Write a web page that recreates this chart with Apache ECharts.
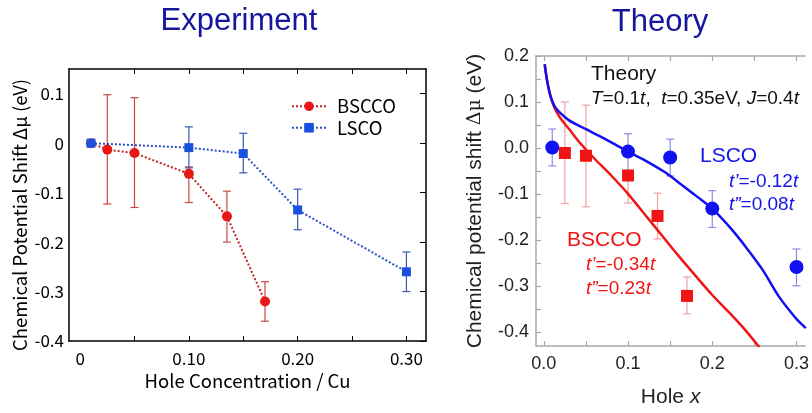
<!DOCTYPE html>
<html>
<head>
<meta charset="utf-8">
<script src="https://cdn.jsdelivr.net/npm/echarts@6/dist/echarts.min.js"></script>
<style>
html,body{margin:0;padding:0;background:#fff;}
#chart{width:812px;height:413px;}
</style>
</head>
<body>
<div id="chart"></div>
<script>
// ---------- Experiment (left panel) ----------
const expBsccoX = [0.01, 0.025, 0.05, 0.10, 0.135, 0.17];
const expBsccoY = [0, -0.013, -0.02, -0.062, -0.148, -0.32];
const expLscoX = [0.01, 0.10, 0.15, 0.20, 0.30];
const expLscoY = [0, -0.009, -0.021, -0.135, -0.26];
const expBsccoErrX = [0.025, 0.05, 0.10, 0.135, 0.17];
const expBsccoErrLow = [-0.123, -0.13, -0.12, -0.2, -0.36];
const expBsccoErrHigh = [0.098, 0.092, -0.048, -0.097, -0.28];
const expLscoErrX = [0.10, 0.15, 0.20, 0.30];
const expLscoErrLow = [-0.05, -0.06, -0.175, -0.30];
const expLscoErrHigh = [0.033, 0.02, -0.093, -0.22];
const expXLabels = [0, 0.1, 0.2, 0.3];
const expXTicks = [0.05, 0.1, 0.15, 0.2, 0.25, 0.3];
const expYLabels = [-0.4, -0.3, -0.2, -0.1, 0, 0.1];

// ---------- Theory (right panel) ----------
const thBsccoX = [0.025, 0.05, 0.10, 0.135, 0.17];
const thBsccoY = [-0.011, -0.017, -0.06, -0.148, -0.322];
const thLscoX = [0.01, 0.10, 0.15, 0.20, 0.30];
const thLscoY = [0.001, -0.008, -0.021, -0.132, -0.259];
const thBsccoErrLow = [-0.121, -0.128, -0.12, -0.198, -0.361];
const thBsccoErrHigh = [0.1, 0.093, -0.05, -0.0985, -0.281];
const thLscoErrLow = [-0.039, -0.049, -0.061, -0.173, -0.30];
const thLscoErrHigh = [0.041, 0.031, 0.019, -0.093, -0.22];
const curveBsccoX = [0.001, 0.004, 0.008, 0.012, 0.018, 0.024, 0.03, 0.042, 0.06, 0.08, 0.1, 0.12, 0.14, 0.16, 0.18, 0.2, 0.22, 0.24, 0.256];
const curveBsccoY = [0.182, 0.145, 0.112, 0.09, 0.069, 0.054, 0.041, 0.013, -0.023, -0.06, -0.1, -0.145, -0.19, -0.235, -0.278, -0.32, -0.358, -0.398, -0.434];
const curveLscoX = [0.001, 0.004, 0.008, 0.013, 0.02, 0.03, 0.042, 0.05, 0.0615, 0.073, 0.085, 0.1, 0.12, 0.143, 0.16, 0.182, 0.2, 0.221, 0.24, 0.26, 0.279, 0.299, 0.311];
const curveLscoY = [0.182, 0.145, 0.112, 0.09, 0.075, 0.06, 0.048, 0.041, 0.03, 0.019, 0.007, -0.008, -0.027, -0.052, -0.075, -0.106, -0.132, -0.173, -0.216, -0.266, -0.323, -0.37, -0.392];
const thXLabels = [0, 0.1, 0.2, 0.3];
const thXTicks = [0, 0.05, 0.1, 0.15, 0.2, 0.25, 0.3];
const thYLabels = [-0.4, -0.3, -0.2, -0.1, 0, 0.1, 0.2];
const thYTicks = [-0.4, -0.35, -0.3, -0.25, -0.2, -0.15, -0.1, -0.05, 0, 0.05, 0.1, 0.15, 0.2];

const JP = '"Noto Sans CJK JP", "DejaVu Sans", sans-serif';
const AR = '"Liberation Sans", Arial, sans-serif';

const zip = (xs, ys) => xs.map((x, i) => [x, ys[i]]);
const zip3 = (xs, a, b) => xs.map((x, i) => [x, a[i], b[i]]);

function errBar(color, cap, width) {
  return function (params, api) {
    const x = api.value(0), lo = api.value(1), hi = api.value(2);
    const p1 = api.coord([x, hi]), p2 = api.coord([x, lo]);
    const st = { stroke: color, lineWidth: width };
    return {
      type: 'group',
      children: [
        { type: 'line', shape: { x1: p1[0], y1: p1[1], x2: p2[0], y2: p2[1] }, style: st },
        { type: 'line', shape: { x1: p1[0] - cap, y1: p1[1], x2: p1[0] + cap, y2: p1[1] }, style: st },
        { type: 'line', shape: { x1: p2[0] - cap, y1: p2[1], x2: p2[0] + cap, y2: p2[1] }, style: st }
      ]
    };
  };
}

const chart = echarts.init(document.getElementById('chart'));
const blackLine = { onZero: false, lineStyle: { color: '#000', width: 1.5 } };
const grayLine = { onZero: false, lineStyle: { color: '#a8a8a8', width: 1.5 } };
const fmt1 = v => (Math.round(v * 10) / 10).toFixed(1);

const option = {
  animation: false,
  backgroundColor: '#fff',
  grid: [
    { left: 69, top: 69, width: 357, height: 272 },
    { left: 536, top: 56, width: 274, height: 295 }
  ],
  legend: {
    data: ['BSCCO', 'LSCO'],
    orient: 'vertical',
    left: 286, top: 92,
    itemWidth: 34, itemHeight: 12, itemGap: 3,
    textStyle: { fontFamily: JP, fontSize: 18.5, color: '#000', padding: [0, 0, 0, 6] }
  },
  xAxis: [
    { gridIndex: 0, type: 'value', min: -0.0102, max: 0.318, position: 'bottom',
      axisLine: blackLine, splitLine: { show: false },
      axisTick: { inside: true, length: 5, customValues: expXTicks, lineStyle: { color: '#000' } },
      axisLabel: { customValues: expXLabels, margin: 9, fontFamily: JP, fontSize: 17, color: '#000',
        formatter: v => v === 0 ? '0' : v.toFixed(2) },
      name: 'Hole Concentration / Cu', nameLocation: 'middle', nameGap: 28,
      nameTextStyle: { fontFamily: JP, fontSize: 18.5, color: '#000' } },
    { gridIndex: 0, type: 'value', min: -0.0102, max: 0.318, position: 'top',
      axisLine: blackLine, splitLine: { show: false },
      axisTick: { inside: true, length: 5, customValues: expXTicks, lineStyle: { color: '#000' } },
      axisLabel: { show: false } },
    { gridIndex: 1, type: 'value', min: -0.0093, max: 0.3104, position: 'bottom',
      axisLine: grayLine, splitLine: { show: false },
      axisTick: { inside: true, length: 5, customValues: thXTicks, lineStyle: { color: '#a8a8a8', width: 1.2 } },
      axisLabel: { customValues: thXLabels, margin: 9, fontFamily: AR, fontSize: 18, color: '#222',
        formatter: fmt1 },
      name: 'Hole {i|x}', nameLocation: 'middle', nameGap: 41,
      nameTextStyle: { fontFamily: AR, fontSize: 21, color: '#222',
        rich: { i: { fontFamily: AR, fontSize: 21, fontStyle: 'italic', color: '#222' } } } },
    { gridIndex: 1, type: 'value', min: -0.0093, max: 0.3104, position: 'top',
      axisLine: grayLine, splitLine: { show: false },
      axisTick: { inside: true, length: 5, customValues: thXTicks, lineStyle: { color: '#a8a8a8', width: 1.2 } },
      axisLabel: { show: false } }
  ],
  yAxis: [
    { gridIndex: 0, type: 'value', min: -0.4, max: 0.15, position: 'left',
      axisLine: { show: true, onZero: false, lineStyle: { color: '#000', width: 1.5 } }, splitLine: { show: false },
      axisTick: { show: false },
      axisLabel: { customValues: expYLabels, margin: 5, fontFamily: JP, fontSize: 17, color: '#000',
        formatter: v => Math.abs(v) < 1e-9 ? '0' : (Math.round(v * 10) / 10).toString() } },
    { gridIndex: 0, type: 'value', min: -0.4, max: 0.15, position: 'right',
      axisLine: { show: true, onZero: false, lineStyle: { color: '#000', width: 1.5 } }, splitLine: { show: false },
      axisTick: { inside: true, length: 6, customValues: expYLabels, lineStyle: { color: '#000' } },
      axisLabel: { show: false } },
    { gridIndex: 1, type: 'value', min: -0.431, max: 0.2, position: 'left',
      axisLine: { show: true, onZero: false, lineStyle: { color: '#a8a8a8', width: 1.5 } }, splitLine: { show: false },
      axisTick: { inside: true, length: 5, customValues: thYTicks, lineStyle: { color: '#a8a8a8', width: 1.2 } },
      axisLabel: { customValues: thYLabels, margin: 7, fontFamily: AR, fontSize: 18, color: '#222',
        formatter: fmt1 },
      name: 'Chemical potential shift {g|Δμ} (eV)', nameLocation: 'middle', nameGap: 50,
      nameTextStyle: { fontFamily: AR, fontSize: 21, color: '#222',
        rich: { g: { fontFamily: '"DejaVu Serif", serif', fontSize: 19, color: '#222' } } } }
  ],
  series: [
    // Experiment error bars
    { type: 'custom', xAxisIndex: 0, yAxisIndex: 0, silent: true, z: 1,
      renderItem: errBar('#c84848', 4, 1.2), encode: { x: 0, y: [1, 2] },
      data: zip3(expBsccoErrX, expBsccoErrLow, expBsccoErrHigh) },
    { type: 'custom', xAxisIndex: 0, yAxisIndex: 0, silent: true, z: 1,
      renderItem: errBar('#3a56b0', 4, 1.2), encode: { x: 0, y: [1, 2] },
      data: zip3(expLscoErrX, expLscoErrLow, expLscoErrHigh) },
    { name: 'BSCCO', type: 'line', xAxisIndex: 0, yAxisIndex: 0, z: 3,
      data: zip(expBsccoX, expBsccoY), symbol: 'circle', symbolSize: 10,
      lineStyle: { color: '#c02828', width: 2, type: 'dotted' },
      itemStyle: { color: '#e81818', opacity: 1 } },
    { name: 'LSCO', type: 'line', xAxisIndex: 0, yAxisIndex: 0, z: 4,
      data: zip(expLscoX, expLscoY), symbol: 'rect', symbolSize: 9,
      lineStyle: { color: '#2a52c8', width: 2, type: 'dotted' },
      itemStyle: { color: '#1a50e0', opacity: 1 } },
    // Theory error bars
    { type: 'custom', xAxisIndex: 2, yAxisIndex: 2, silent: true, z: 1,
      renderItem: errBar('#f2a0a0', 4, 1.2), encode: { x: 0, y: [1, 2] },
      data: zip3(thBsccoX, thBsccoErrLow, thBsccoErrHigh) },
    { type: 'custom', xAxisIndex: 2, yAxisIndex: 2, silent: true, z: 1,
      renderItem: errBar('#8c8ce6', 4, 1.2), encode: { x: 0, y: [1, 2] },
      data: zip3(thLscoX, thLscoErrLow, thLscoErrHigh) },
    { name: 'BSCCO theory', type: 'line', xAxisIndex: 2, yAxisIndex: 2, z: 2,
      data: zip(curveBsccoX, curveBsccoY), showSymbol: false, smooth: 0.3,
      lineStyle: { color: '#f01414', width: 2.5 } },
    { name: 'LSCO theory', type: 'line', xAxisIndex: 2, yAxisIndex: 2, z: 2,
      data: zip(curveLscoX, curveLscoY), showSymbol: false, smooth: 0.3,
      lineStyle: { color: '#1010f0', width: 2.5 } },
    { name: 'BSCCO data', type: 'scatter', xAxisIndex: 2, yAxisIndex: 2, z: 3,
      data: zip(thBsccoX, thBsccoY), symbol: 'rect', symbolSize: 12,
      itemStyle: { color: '#f01414', opacity: 1 } },
    { name: 'LSCO data', type: 'scatter', xAxisIndex: 2, yAxisIndex: 2, z: 3,
      data: zip(thLscoX, thLscoY), symbol: 'circle', symbolSize: 14,
      itemStyle: { color: '#1010f0', opacity: 1 } }
  ],
  graphic: [
    { type: 'text', x: 239, y: 21, style: { text: 'Experiment', fill: '#15159e', font: '31px "Liberation Sans", sans-serif', align: 'center', verticalAlign: 'middle' } },
    { type: 'text', x: 660, y: 22, style: { text: 'Theory', fill: '#15159e', font: '31px "Liberation Sans", sans-serif', align: 'center', verticalAlign: 'middle' } },
    { type: 'text', x: 20, y: 215, rotation: Math.PI / 2, style: { text: 'Chemical Potential Shift Δμ (eV)', fill: '#000', font: '18.5px ' + JP, align: 'center', verticalAlign: 'middle' } },
    { type: 'text', x: 591, y: 74, style: { text: 'Theory', fill: '#111', font: '21px ' + AR, verticalAlign: 'middle' } },
    { type: 'text', x: 591, y: 99, style: { text: '{i|T}=0.1{i|t},  {i|t}=0.35eV, {i|J}=0.4{i|t}', fill: '#111', font: '19px ' + AR, verticalAlign: 'middle',
      rich: { i: { fontStyle: 'italic', fontFamily: AR, fontSize: 19, fill: '#111' } } } },
    { type: 'text', x: 700, y: 156, style: { text: 'LSCO', fill: '#1414e6', font: '21px ' + AR, verticalAlign: 'middle' } },
    { type: 'text', x: 729, y: 182, style: { text: '{i|t’}=-0.12{i|t}', fill: '#1414e6', font: '19px ' + AR, verticalAlign: 'middle',
      rich: { i: { fontStyle: 'italic', fontFamily: AR, fontSize: 19, fill: '#1414e6' } } } },
    { type: 'text', x: 729, y: 205, style: { text: '{i|t”}=0.08{i|t}', fill: '#1414e6', font: '19px ' + AR, verticalAlign: 'middle',
      rich: { i: { fontStyle: 'italic', fontFamily: AR, fontSize: 19, fill: '#1414e6' } } } },
    { type: 'text', x: 567, y: 240, style: { text: 'BSCCO', fill: '#f01414', font: '21px ' + AR, verticalAlign: 'middle' } },
    { type: 'text', x: 586, y: 265, style: { text: '{i|t’}=-0.34{i|t}', fill: '#f01414', font: '19px ' + AR, verticalAlign: 'middle',
      rich: { i: { fontStyle: 'italic', fontFamily: AR, fontSize: 19, fill: '#f01414' } } } },
    { type: 'text', x: 586, y: 289, style: { text: '{i|t”}=0.23{i|t}', fill: '#f01414', font: '19px ' + AR, verticalAlign: 'middle',
      rich: { i: { fontStyle: 'italic', fontFamily: AR, fontSize: 19, fill: '#f01414' } } } }
  ]
};
chart.setOption(option);
</script>
</body>
</html>
